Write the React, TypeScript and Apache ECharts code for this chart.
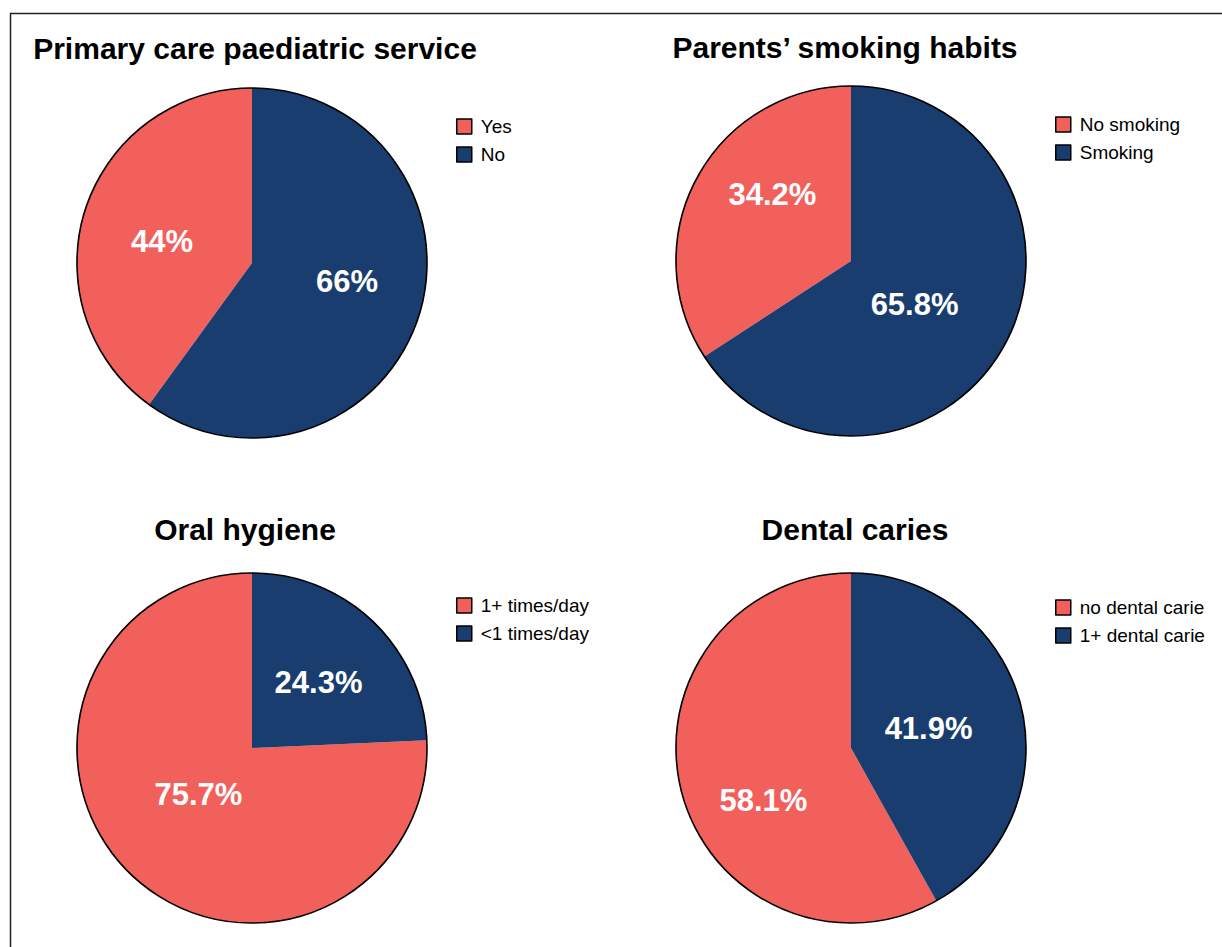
import React, { useEffect, useRef } from "react";
import * as echarts from "echarts";

// Survey results shown as four pies
const RED = "#F2605C";
const BLUE = "#183D6E";

const titles = [
  "Primary care paediatric service",
  "Parents\u2019 smoking habits",
  "Oral hygiene",
  "Dental caries",
];

const careNames = ["Yes", "No"];
const careValues = [44, 66];

const smokingNames = ["No smoking", "Smoking"];
const smokingValues = [34.2, 65.8];

const hygieneNames = ["1+ times/day", "<1 times/day"];
const hygieneValues = [75.7, 24.3];

const cariesNames = ["no dental carie", "1+ dental carie"];
const cariesValues = [58.1, 41.9];

const FONT = "'Liberation Sans', Arial, Helvetica, sans-serif";

// panel layout: pie centre, title centre, legend anchor, label nudges
const panels = [
  {
    names: careNames, values: careValues, cx: 252, cy: 263, tx: 255, ty: 33, lx: 456, ly: 117,
    nudge: [[-4, 6], [9, -9]],
  },
  {
    names: smokingNames, values: smokingValues, cx: 851, cy: 261, tx: 845, ty: 32, lx: 1055, ly: 115,
    nudge: [[1, -23], [-16, 0]],
  },
  {
    names: hygieneNames, values: hygieneValues, cx: 252, cy: 748, tx: 245, ty: 514, lx: 456, ly: 596,
    nudge: [[9, -19], [4, 0]],
  },
  {
    names: cariesNames, values: cariesValues, cx: 851, cy: 748, tx: 855, ty: 514, lx: 1055, ly: 598,
    nudge: [[0, 30], [-10, 3]],
  },
];

const R = 175;

export default function App() {
  const ref = useRef<HTMLDivElement>(null);

  useEffect(() => {
    if (!ref.current) return;
    const chart = echarts.init(ref.current, null, { renderer: "svg" });

    const series: any[] = [];
    panels.forEach((p, i) => {
      series.push({
        type: "pie",
        name: titles[i],
        center: [p.cx, p.cy],
        radius: [0, R],
        startAngle: 90,
        clockwise: false,
        silent: true,
        itemStyle: { borderWidth: 0 },
        label: {
          show: true,
          position: "inside",
          formatter: "{c}%",
          color: "#fff",
          fontSize: 31,
          fontWeight: "bold",
          fontFamily: FONT,
        },
        labelLine: { show: false },
        data: p.names.map((n, k) => ({
          name: n,
          value: p.values[k],
          itemStyle: { color: k === 0 ? RED : BLUE },
          label: { offset: p.nudge[k] },
        })),
      });
      // black outline around the whole pie
      series.push({
        type: "pie",
        name: titles[i] + " outline",
        center: [p.cx, p.cy],
        radius: [0, R],
        silent: true,
        z: 3,
        label: { show: false },
        labelLine: { show: false },
        itemStyle: { color: "rgba(0,0,0,0)", borderColor: "#000", borderWidth: 1.6 },
        data: [{ value: 1, name: "outline" + i }],
      });
    });

    chart.setOption({
      animation: false,
      backgroundColor: "#fff",
      title: panels.map((p, i) => ({
        text: titles[i],
        left: p.tx,
        top: p.ty,
        textAlign: "center",
        padding: 0,
        textStyle: { fontSize: 30, fontWeight: "bold", color: "#000", fontFamily: FONT },
      })),
      legend: panels.map((p) => ({
        data: p.names,
        orient: "vertical",
        left: p.lx,
        top: p.ly,
        padding: 0,
        icon: "rect",
        itemWidth: 15,
        itemHeight: 15,
        itemGap: 9,
        selectedMode: false,
        itemStyle: { borderColor: "#000", borderWidth: 1.5 },
        textStyle: { fontSize: 19, color: "#000", fontFamily: FONT, padding: [0, 0, 0, 4] },
      })),
      graphic: [
        {
          type: "rect",
          shape: { x: 10.5, y: 13.5, width: 1240, height: 960 },
          style: { fill: "none", stroke: "#222", lineWidth: 1.5 },
          silent: true,
        },
      ],
      series,
    });

    return () => chart.dispose();
  }, []);

  return (
    <div
      ref={ref}
      style={{ position: "absolute", left: 0, top: 0, width: 1222, height: 947 }}
    />
  );
}
